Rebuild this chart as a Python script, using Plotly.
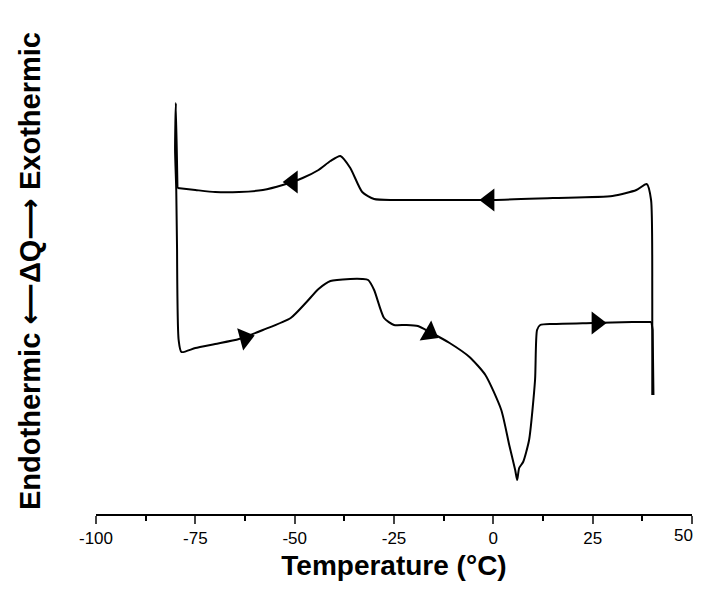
import plotly.graph_objects as go

# trace: temperature (°C) and heat flow (arb. units)
cool_T = [40.0, 40.0, 39.7, 38.6, 36.0, 30.0, 15.0, 0.0, -15.0, -25.0, -30.0, -33.0, -36.0,
          -38.5, -41.0, -44.0, -48.0, -53.0, -58.0, -64.0, -70.0, -75.0, -79.5]
cool_Q = [-395, -300, -200, -184, -190, -196, -198, -200, -200, -200, -199, -192, -168,
          -156, -161, -170, -178, -185, -190, -192, -192, -190, -188]

spike_T = [-79.5, -79.9, -80.1, -79.8, -79.6]
spike_Q = [-188, -103, -150, -190, -250]

heat_T = [-79.6, -79.2, -78.5, -75.0, -70.0, -64.0, -58.0, -51.0, -47.0, -44.0, -41.0,
          -36.0, -33.0, -31.5, -30.0, -27.5, -25.0, -22.0, -19.0, -16.0, -11.0, -6.0,
          -2.0, 2.0, 4.0, 5.5, 6.0, 6.5, 7.5, 9.0, 10.5, 11.0, 11.8, 15.0, 25.0, 35.0,
          39.8]
heat_Q = [-250, -340, -352, -348, -344, -339, -330, -318, -302, -289, -281, -279, -279,
          -280, -290, -318, -325, -325, -326, -332, -343, -357, -375, -410, -445, -470,
          -480, -468, -462, -440, -380, -330, -325, -324, -323, -322, -322]
end_T = [39.8, 40.1, 40.3]
end_Q = [-322, -330, -395]

arrow_T = [-50.5, -1.0, -62.5, -16.0, 26.0]
arrow_Q = [-182, -200, -338, -333, -323]
arrow_ang = [180, 180, -15, 30, 0]

tick_vals = [-100, -75, -50, -25, 0, 25, 50]
tick_text = ["-100", "-75", "-50", "-25", "0", "25", ""]  # "50" placed as annotation so it is not cut off

fig = go.Figure()
for xs, ys, sm in [(cool_T, cool_Q, 0.6), (spike_T, spike_Q, 0.6), (heat_T, heat_Q, 0.6), (end_T, end_Q, 0)]:
    fig.add_trace(go.Scatter(x=xs, y=ys, mode="lines", cliponaxis=False,
                             line=dict(color="black", width=2, shape="spline" if sm else "linear", smoothing=sm or None),
                             hoverinfo="skip", showlegend=False))
fig.add_trace(go.Scatter(x=arrow_T, y=arrow_Q, mode="markers", showlegend=False, hoverinfo="skip",
                         marker=dict(symbol="triangle-right", size=20, color="black", angle=arrow_ang)))

arr = "<span style='font-family:DejaVu Sans'>⟵</span>"
arr2 = "<span style='font-family:DejaVu Sans'>⟶</span>"
fig.update_layout(
    width=705, height=592, paper_bgcolor="white", plot_bgcolor="white",
    margin=dict(l=88, r=21, t=87, b=86),
    font=dict(family="Arial, Liberation Sans", color="black"),
    xaxis=dict(range=[-100, 50], tickvals=tick_vals, ticktext=tick_text, ticks="outside", ticklen=8,
               tickwidth=1.5, showline=True, linecolor="black", linewidth=1.5, showgrid=False, zeroline=False,
               automargin=False, tickfont=dict(size=17),
               minor=dict(tickvals=[-87.5, -62.5, -37.5, -12.5, 12.5, 37.5], ticks="outside",
                          ticklen=5, tickwidth=1.5, tickcolor="black"),
               title=dict(text="<b>Temperature (°C)</b>", font=dict(size=28), standoff=8)),
    yaxis=dict(range=[-514, -95], visible=False, automargin=False),
    annotations=[dict(text="<b>Endothermic " + arr + "ΔQ" + arr2 + " Exothermic</b>", textangle=-90,
                      xref="paper", yref="paper", x=0, xshift=-66, y=0.58, xanchor="center", yanchor="middle",
                      showarrow=False, font=dict(size=29)),
                 dict(text="50", xref="paper", yref="paper", x=1, y=0, xshift=3, yshift=-10,
                      xanchor="right", yanchor="top", showarrow=False, font=dict(size=17))],
)
fig.write_html("out.html")
